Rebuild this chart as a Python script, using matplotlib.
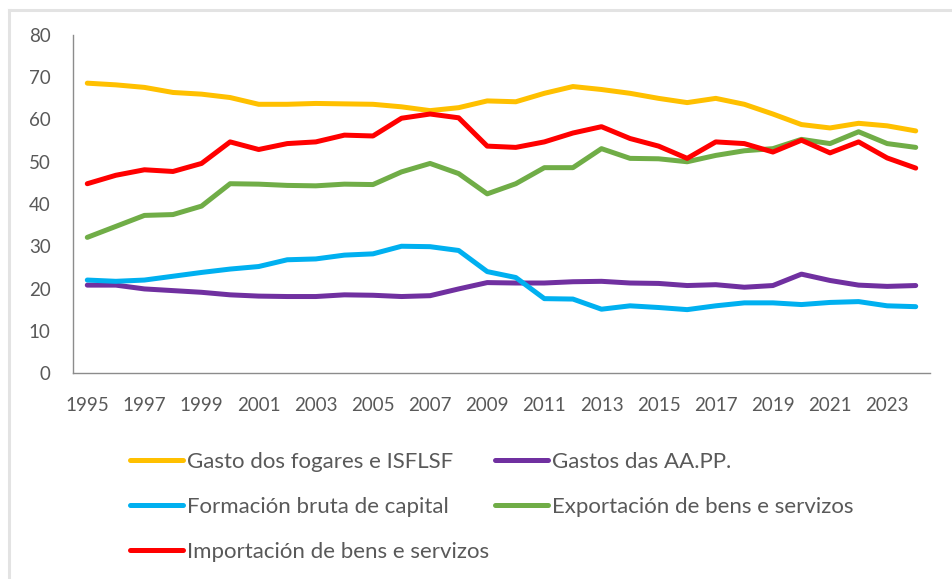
import matplotlib
matplotlib.use("Agg")
import matplotlib.pyplot as plt
from matplotlib.lines import Line2D

plt.rcParams['font.family'] = ['Lato', 'DejaVu Sans']

years = list(range(1995, 2025))
tick_years = list(range(1995, 2024, 2))

gasto_fogares = [68.6, 68.2, 67.6, 66.4, 66.0, 65.2, 63.6, 63.6, 63.8, 63.7,
                 63.6, 63.0, 62.1, 62.8, 64.4, 64.2, 66.2, 67.8, 67.1, 66.2,
                 65.0, 64.0, 65.0, 63.6, 61.3, 58.8, 58.0, 59.1, 58.5, 57.3]
gastos_aapp = [20.8, 20.8, 19.9, 19.5, 19.1, 18.5, 18.2, 18.1, 18.1, 18.5,
               18.4, 18.1, 18.3, 19.9, 21.4, 21.3, 21.3, 21.6, 21.7, 21.3,
               21.2, 20.7, 20.9, 20.3, 20.7, 23.4, 21.9, 20.8, 20.5, 20.7]
formacion = [22.0, 21.7, 22.0, 22.9, 23.8, 24.6, 25.2, 26.8, 27.0, 27.9,
             28.2, 30.0, 29.9, 29.0, 24.0, 22.6, 17.6, 17.5, 15.1, 15.9,
             15.5, 15.0, 15.9, 16.6, 16.6, 16.2, 16.7, 16.9, 15.9, 15.7]
exportacion = [32.1, 34.7, 37.3, 37.5, 39.5, 44.8, 44.7, 44.4, 44.3, 44.7,
               44.6, 47.6, 49.6, 47.2, 42.4, 44.8, 48.6, 48.6, 53.1, 50.8,
               50.7, 50.0, 51.5, 52.6, 53.1, 55.3, 54.3, 57.1, 54.3, 53.4]
importacion = [44.8, 46.8, 48.1, 47.7, 49.6, 54.7, 52.9, 54.3, 54.7, 56.3,
               56.1, 60.3, 61.3, 60.4, 53.7, 53.4, 54.7, 56.8, 58.3, 55.5,
               53.7, 50.8, 54.7, 54.3, 52.3, 55.1, 52.1, 54.7, 50.9, 48.5]

labels = ["Gasto dos fogares e ISFLSF", "Gastos das AA.PP.",
          "Formación bruta de capital", "Exportación de bens e servizos",
          "Importación de bens e servizos"]
colors = ["#FFC000", "#7030A0", "#00B0F0", "#70AD47", "#FF0000"]
series = [gasto_fogares, gastos_aapp, formacion, exportacion, importacion]

W, H = 953, 579
fig = plt.figure(figsize=(W / 100, H / 100), dpi=100)
ax = fig.add_axes([73 / W, 1 - 373 / H, (930 - 73) / W, (373 - 35) / H])

handles = {}
for lab, col, vals in zip(labels, colors, series):
    h, = ax.plot(years, vals, color=col, lw=3.6, solid_capstyle='round',
                 solid_joinstyle='round', label=lab)
    handles[lab] = h

ax.set_xlim(1994.5, 2024.5)
ax.set_ylim(0, 80)
ax.set_yticks(range(0, 81, 10))
ax.set_xticks(tick_years)
ax.set_xticklabels([str(y) for y in tick_years])

text_col = "#595959"
for s in ['top', 'right']:
    ax.spines[s].set_visible(False)
for s in ['left', 'bottom']:
    ax.spines[s].set_color("#8c8c8c")
    ax.spines[s].set_linewidth(1.0)
ax.tick_params(axis='both', length=0, labelsize=13.5, colors=text_col)
ax.tick_params(axis='y', pad=16)
ax.tick_params(axis='x', pad=17)

common = dict(frameon=False, fontsize=16, handlelength=2.4,
              handletextpad=0.18, labelspacing=1.12, borderpad=0,
              borderaxespad=0, labelcolor=text_col, loc='upper left')
col1 = [labels[0], labels[2], labels[4]]
col2 = [labels[1], labels[3]]
leg1 = fig.legend([handles[l] for l in col1], col1,
                  bbox_to_anchor=(130 / W, 1 - 452 / H), **common)
leg2 = fig.legend([handles[l] for l in col2], col2,
                  bbox_to_anchor=(495 / W, 1 - 452 / H), **common)

# chart area border (top and left)
fig.add_artist(Line2D([9 / W, 9 / W], [0, 1 - 10 / H], transform=fig.transFigure,
                      color="#e3e3e3", lw=2.2))
fig.add_artist(Line2D([9 / W, 1], [1 - 10 / H, 1 - 10 / H], transform=fig.transFigure,
                      color="#e3e3e3", lw=2.2))

fig.savefig("out.png", dpi=100)
